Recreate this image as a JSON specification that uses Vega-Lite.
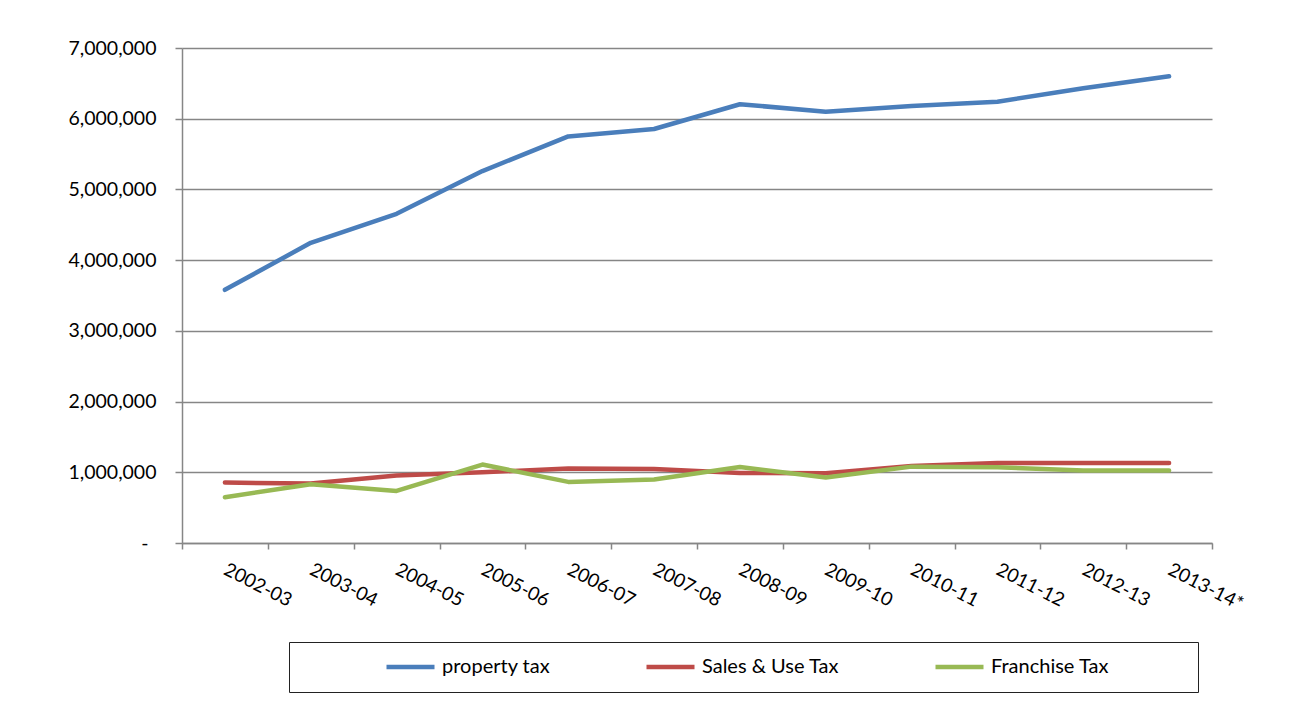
{
  "$schema": "https://vega.github.io/schema/vega-lite/v6.json",
  "width": 1030,
  "height": 495,
  "autosize": {"type": "none"},
  "padding": {"left": 182, "top": 48, "right": 103, "bottom": 164},
  "background": "white",
  "config": {"font": "Lato", "view": {"stroke": null}},
  "data": {
    "values": [
      {"year": "2002-03", "series": "property tax", "value": 3580000},
      {"year": "2003-04", "series": "property tax", "value": 4245000},
      {"year": "2004-05", "series": "property tax", "value": 4655000},
      {"year": "2005-06", "series": "property tax", "value": 5260000},
      {"year": "2006-07", "series": "property tax", "value": 5750000},
      {"year": "2007-08", "series": "property tax", "value": 5855000},
      {"year": "2008-09", "series": "property tax", "value": 6205000},
      {"year": "2009-10", "series": "property tax", "value": 6100000},
      {"year": "2010-11", "series": "property tax", "value": 6180000},
      {"year": "2011-12", "series": "property tax", "value": 6240000},
      {"year": "2012-13", "series": "property tax", "value": 6430000},
      {"year": "2013-14*", "series": "property tax", "value": 6600000},
      {"year": "2002-03", "series": "Sales & Use Tax", "value": 855000},
      {"year": "2003-04", "series": "Sales & Use Tax", "value": 840000},
      {"year": "2004-05", "series": "Sales & Use Tax", "value": 953000},
      {"year": "2005-06", "series": "Sales & Use Tax", "value": 1000000},
      {"year": "2006-07", "series": "Sales & Use Tax", "value": 1052000},
      {"year": "2007-08", "series": "Sales & Use Tax", "value": 1048000},
      {"year": "2008-09", "series": "Sales & Use Tax", "value": 990000},
      {"year": "2009-10", "series": "Sales & Use Tax", "value": 987000},
      {"year": "2010-11", "series": "Sales & Use Tax", "value": 1090000},
      {"year": "2011-12", "series": "Sales & Use Tax", "value": 1130000},
      {"year": "2012-13", "series": "Sales & Use Tax", "value": 1130000},
      {"year": "2013-14*", "series": "Sales & Use Tax", "value": 1130000},
      {"year": "2002-03", "series": "Franchise Tax", "value": 648000},
      {"year": "2003-04", "series": "Franchise Tax", "value": 832000},
      {"year": "2004-05", "series": "Franchise Tax", "value": 737000},
      {"year": "2005-06", "series": "Franchise Tax", "value": 1109000},
      {"year": "2006-07", "series": "Franchise Tax", "value": 864000},
      {"year": "2007-08", "series": "Franchise Tax", "value": 897000},
      {"year": "2008-09", "series": "Franchise Tax", "value": 1075000},
      {"year": "2009-10", "series": "Franchise Tax", "value": 925000},
      {"year": "2010-11", "series": "Franchise Tax", "value": 1080000},
      {"year": "2011-12", "series": "Franchise Tax", "value": 1070000},
      {"year": "2012-13", "series": "Franchise Tax", "value": 1024000},
      {"year": "2013-14*", "series": "Franchise Tax", "value": 1024000}
    ]
  },
  "mark": {"type": "line", "strokeWidth": 4.5, "strokeCap": "round", "strokeJoin": "round"},
  "encoding": {
    "x": {
      "field": "year",
      "type": "nominal",
      "sort": null,
      "scale": {"type": "band", "paddingInner": 0, "paddingOuter": 0},
      "axis": {
        "title": null,
        "grid": false,
        "labelAngle": 27,
        "labelAlign": "left",
        "labelBaseline": "top",
        "labelFontSize": 19,
        "labelColor": "#000000",
        "labelPadding": 11,
        "labelOffset": 4,
        "tickBand": "extent",
        "tickSize": 6,
        "tickWidth": 1.5,
        "tickColor": "#868686",
        "domainColor": "#868686",
        "domainWidth": 1.5
      }
    },
    "y": {
      "field": "value",
      "type": "quantitative",
      "scale": {"domain": [0, 7000000], "nice": false},
      "axis": {
        "title": null,
        "values": [0, 1000000, 2000000, 3000000, 4000000, 5000000, 6000000, 7000000],
        "labelExpr": "datum.value == 0 ? '-' : format(datum.value, ',')",
        "labelFontSize": 19.5,
        "labelColor": "#000000",
        "labelPadding": {"condition": {"test": "datum.value == 0", "value": 27}, "value": 19},
        "tickSize": 7,
        "tickWidth": 1.5,
        "tickColor": "#868686",
        "domainColor": "#868686",
        "domainWidth": 1.5,
        "gridColor": "#868686",
        "gridWidth": 1.5
      }
    },
    "color": {
      "field": "series",
      "type": "nominal",
      "scale": {
        "domain": ["property tax", "Sales & Use Tax", "Franchise Tax"],
        "range": ["#4A7EBB", "#BE4B48", "#98B954"]
      },
      "legend": {
        "title": "\u2003",
        "titleOrient": "right",
        "titleFontSize": 20,
        "titlePadding": 76,
        "orient": "none",
        "legendX": 107,
        "legendY": 594,
        "direction": "horizontal",
        "symbolType": "stroke",
        "symbolSize": 2304,
        "symbolStrokeWidth": 4.5,
        "clipHeight": 24,
        "labelFontSize": 20,
        "labelColor": "#000000",
        "labelOffset": 5,
        "symbolOffset": 82,
        "columnPadding": 11,
        "strokeColor": "#222222",
        "padding": 13
      }
    }
  }
}
